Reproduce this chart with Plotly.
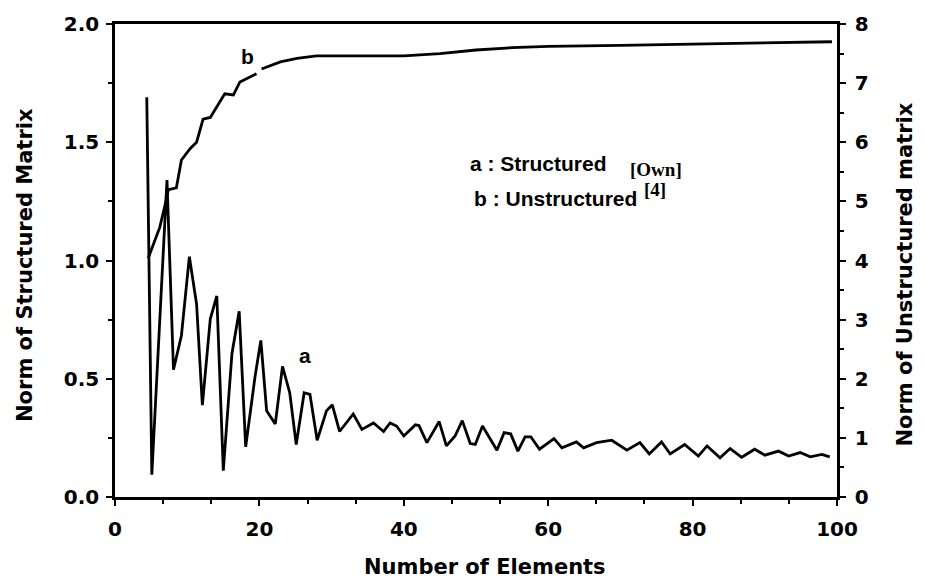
import plotly.graph_objects as go

# Curve a: structured matrix norm (left axis)
a_x = [4.4, 5.1, 7.2, 8.1, 9.2, 10.3, 11.3, 12.1, 13.2, 14.1, 15.0, 16.2, 17.2, 18.1, 19.4,
       20.2, 21.0, 22.2, 23.2, 24.2, 25.1, 26.2, 27.0, 28.0, 29.3, 30.1, 31.1, 33.0, 34.2,
       35.8, 37.2, 38.1, 39.0, 40.0, 41.6, 42.1, 43.2, 44.9, 45.9, 47.1, 48.1, 49.2, 49.9,
       50.9, 52.9, 53.9, 54.8, 55.8, 56.8, 57.6, 58.8, 60.8, 61.9, 63.9, 64.9, 66.7, 68.8,
       70.9, 72.7, 74.0, 75.7, 76.9, 78.9, 80.8, 82.0, 83.8, 85.2, 86.8, 88.6, 90.0, 91.9,
       93.3, 94.9, 96.3, 97.9, 99.0]
a_y = [1.69, 0.094, 1.34, 0.538, 0.683, 1.016, 0.815, 0.388, 0.753, 0.85, 0.111, 0.607, 0.785,
       0.212, 0.51, 0.662, 0.365, 0.309, 0.552, 0.441, 0.222, 0.441, 0.434, 0.24, 0.365, 0.39,
       0.277, 0.351, 0.286, 0.313, 0.277, 0.313, 0.30, 0.258, 0.305, 0.302, 0.23, 0.319, 0.216,
       0.258, 0.323, 0.226, 0.222, 0.30, 0.198, 0.272, 0.267, 0.194, 0.254, 0.254, 0.202, 0.247,
       0.208, 0.233, 0.208, 0.23, 0.24, 0.198, 0.23, 0.182, 0.233, 0.182, 0.222, 0.173, 0.216,
       0.166, 0.205, 0.168, 0.202, 0.177, 0.194, 0.173, 0.188, 0.17, 0.18, 0.17]

# Curve b: unstructured matrix norm (right axis), gap near the "b" label
b_x = [4.6, 6.2, 6.9, 7.4, 8.5, 9.2, 10.4, 11.3, 12.2, 13.2, 15.2, 16.4, 17.3, 19.6, 19.95,
       20.3, 22.9, 25.2, 27.9, 32.5, 40, 45, 50, 55, 60, 70, 80, 90, 99.3]
b_y = [4.04, 4.56, 4.92, 5.20, 5.23, 5.70, 5.89, 6.00, 6.39, 6.42, 6.82, 6.80, 7.02, 7.16, None,
       7.24, 7.36, 7.42, 7.46, 7.46, 7.46, 7.50, 7.56, 7.60, 7.62, 7.64, 7.66, 7.69, 7.70]

FONT = "Liberation Sans, Arial, sans-serif"
WIDE = "DejaVu Sans, sans-serif"
SERIF = "Liberation Serif, Times New Roman, serif"

fig = go.Figure()
fig.add_trace(go.Scatter(x=a_x, y=a_y, mode="lines", line=dict(color="black", width=2.8),
                         yaxis="y", showlegend=False))
fig.add_trace(go.Scatter(x=b_x, y=b_y, mode="lines", line=dict(color="black", width=2.8),
                         yaxis="y2", showlegend=False, connectgaps=False))

tickfont = dict(family=WIDE, size=20, color="black", weight="bold")

fig.update_layout(
    width=925, height=581,
    margin=dict(l=115, r=88, t=15, b=84),
    paper_bgcolor="white", plot_bgcolor="white",
    xaxis=dict(range=[0, 100], dtick=20, tick0=0, showgrid=False, zeroline=False,
               showline=True, linecolor="black", linewidth=2.5, mirror=True,
               ticks="outside", ticklen=6, tickwidth=2, tickcolor="black",
               minor=dict(dtick=20/3, ticks="outside", ticklen=4, tickwidth=1.5, tickcolor="black"),
               tickfont=tickfont, ticklabelstandoff=6),
    yaxis=dict(range=[0, 2], dtick=0.5, tick0=0, tickformat=".1f", showgrid=False, zeroline=False,
               showline=True, linecolor="black", linewidth=2.5,
               ticks="outside", ticklen=6, tickwidth=2, tickcolor="black",
               minor=dict(dtick=0.25, ticks="outside", ticklen=4, tickwidth=1.5, tickcolor="black"),
               tickfont=tickfont, ticklabelstandoff=3),
    yaxis2=dict(range=[0, 8], dtick=1, tick0=0, overlaying="y", side="right", showgrid=False,
                zeroline=False, showline=True, linecolor="black", linewidth=2.5,
                ticks="outside", ticklen=6, tickwidth=2, tickcolor="black",
                minor=dict(dtick=0.5, ticks="outside", ticklen=4, tickwidth=1.5, tickcolor="black"),
                tickfont=tickfont, ticklabelstandoff=5),
)

titlefont = dict(family=WIDE, size=21, color="black", weight="bold")
labelfont = dict(family=FONT, size=21, color="black", weight="bold")
seriffont = dict(family=SERIF, size=19, color="black", weight="bold")

anns = [
    dict(text="Number of Elements", xref="paper", yref="paper", x=0.512, y=-0.147,
         xanchor="center", yanchor="middle", showarrow=False, font=titlefont),
    dict(text="Norm of Structured Matrix", xref="paper", yref="paper", x=-0.125, y=0.49,
         xanchor="center", yanchor="middle", textangle=-90, showarrow=False, font=titlefont),
    dict(text="Norm of Unstructured matrix", xref="paper", yref="paper", x=1.094, y=0.47,
         xanchor="center", yanchor="middle", textangle=-90, showarrow=False, font=titlefont),
    dict(text="a : Structured", xref="x", yref="y", x=48.9, y=1.41,
         xanchor="left", yanchor="middle", showarrow=False, font=labelfont),
    dict(text="[Own]", xref="x", yref="y", x=71.0, y=1.385,
         xanchor="left", yanchor="middle", showarrow=False, font=seriffont),
    dict(text="b : Unstructured", xref="x", yref="y", x=49.4, y=1.264,
         xanchor="left", yanchor="middle", showarrow=False, font=labelfont),
    dict(text="[4]", xref="x", yref="y", x=73.0, y=1.30,
         xanchor="left", yanchor="middle", showarrow=False, font=seriffont),
    dict(text="b", xref="x", yref="y", x=18.4, y=1.862,
         xanchor="center", yanchor="middle", showarrow=False, font=labelfont),
    dict(text="a", xref="x", yref="y", x=26.3, y=0.60,
         xanchor="center", yanchor="middle", showarrow=False, font=labelfont),
]
fig.update_layout(annotations=anns)

fig.write_html("out.html")
